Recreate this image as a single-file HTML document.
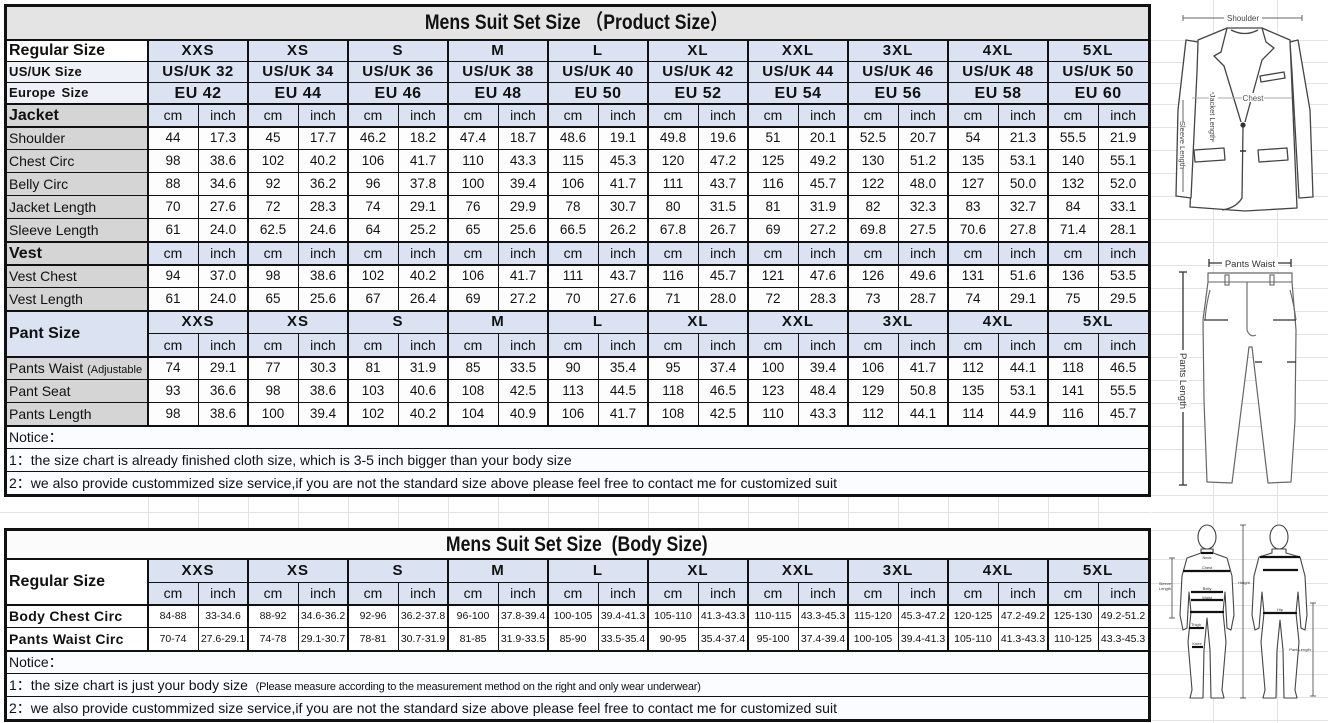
<!DOCTYPE html>
<html><head><meta charset="utf-8">
<style>
body{margin:0;width:1328px;height:723px;position:relative;overflow:hidden;background:#fff;font-family:"Liberation Sans","Noto Sans CJK SC",Arial,sans-serif;color:#111}
table{position:absolute;left:5px;border-collapse:separate;border-spacing:0;table-layout:fixed;width:1143px}
td{padding:0;overflow:hidden;white-space:nowrap;text-align:center;vertical-align:middle;line-height:1.1;font-size:13.5px;background:#fdfdfe}
td.lab{text-align:left;text-indent:4px;font-size:14px;background:#d5d5d5}
td.bd{font-weight:bold;font-size:16px}
.cmr td{background:#dbe3f2;font-size:14px}
.szr td{background:#dbe3f2;font-weight:bold;font-size:15px;letter-spacing:1px}
.usr td{background:#dbe3f2;font-weight:bold;font-size:15px;letter-spacing:.5px}
.eur td{background:#dbe3f2;font-weight:bold;font-size:16px;letter-spacing:.5px}
table tr td.wl{background:#fff}
table tr td.ll{background:#eef1f7}
table tr td.bl{background:#dbe3f2}
table tr td.gl{background:#d5d5d5}
td.title{background:#e4e4e4}
td.title2{background:#fbfbfb}
.tt{display:inline-block;font-size:21px;font-weight:bold;transform:scaleX(.84)}
td.note{text-align:left;text-indent:4px;font-size:14px;background:#fafcff}
.sm td{font-size:10.5px;background:#fff}
.h{position:absolute;left:4px;width:1147px;background:#111}
.v{position:absolute;background:#111}
.g{position:absolute;background:#e3e3e3}
</style></head><body>

<!-- background grid -->
<div class="g" style="left:0;top:512px;width:1150px;height:1px"></div>
<div class="g" style="left:148px;top:497px;width:1px;height:31px"></div>
<div class="g" style="left:198px;top:497px;width:1px;height:31px"></div>
<div class="g" style="left:248px;top:497px;width:1px;height:31px"></div>
<div class="g" style="left:298px;top:497px;width:1px;height:31px"></div>
<div class="g" style="left:348px;top:497px;width:1px;height:31px"></div>
<div class="g" style="left:398px;top:497px;width:1px;height:31px"></div>
<div class="g" style="left:448px;top:497px;width:1px;height:31px"></div>
<div class="g" style="left:498px;top:497px;width:1px;height:31px"></div>
<div class="g" style="left:548px;top:497px;width:1px;height:31px"></div>
<div class="g" style="left:598px;top:497px;width:1px;height:31px"></div>
<div class="g" style="left:648px;top:497px;width:1px;height:31px"></div>
<div class="g" style="left:698px;top:497px;width:1px;height:31px"></div>
<div class="g" style="left:748px;top:497px;width:1px;height:31px"></div>
<div class="g" style="left:798px;top:497px;width:1px;height:31px"></div>
<div class="g" style="left:848px;top:497px;width:1px;height:31px"></div>
<div class="g" style="left:898px;top:497px;width:1px;height:31px"></div>
<div class="g" style="left:948px;top:497px;width:1px;height:31px"></div>
<div class="g" style="left:998px;top:497px;width:1px;height:31px"></div>
<div class="g" style="left:1048px;top:497px;width:1px;height:31px"></div>
<div class="g" style="left:1098px;top:497px;width:1px;height:31px"></div>
<div class="g" style="left:1213px;top:0;width:1px;height:723px"></div>
<div class="g" style="left:1277px;top:0;width:1px;height:723px"></div>
<div class="g" style="left:1151px;top:40px;width:177px;height:1px"></div>
<div class="g" style="left:1151px;top:62px;width:177px;height:1px"></div>
<div class="g" style="left:1151px;top:83px;width:177px;height:1px"></div>
<div class="g" style="left:1151px;top:104px;width:177px;height:1px"></div>
<div class="g" style="left:1151px;top:127px;width:177px;height:1px"></div>
<div class="g" style="left:1151px;top:150px;width:177px;height:1px"></div>
<div class="g" style="left:1151px;top:173px;width:177px;height:1px"></div>
<div class="g" style="left:1151px;top:196px;width:177px;height:1px"></div>
<div class="g" style="left:1151px;top:219px;width:177px;height:1px"></div>
<div class="g" style="left:1151px;top:242px;width:177px;height:1px"></div>
<div class="g" style="left:1151px;top:265px;width:177px;height:1px"></div>
<div class="g" style="left:1151px;top:288px;width:177px;height:1px"></div>
<div class="g" style="left:1151px;top:311px;width:177px;height:1px"></div>
<div class="g" style="left:1151px;top:334px;width:177px;height:1px"></div>
<div class="g" style="left:1151px;top:357px;width:177px;height:1px"></div>
<div class="g" style="left:1151px;top:380px;width:177px;height:1px"></div>
<div class="g" style="left:1151px;top:403px;width:177px;height:1px"></div>
<div class="g" style="left:1151px;top:426px;width:177px;height:1px"></div>
<div class="g" style="left:1151px;top:449px;width:177px;height:1px"></div>
<div class="g" style="left:1151px;top:472px;width:177px;height:1px"></div>
<div class="g" style="left:1151px;top:495px;width:177px;height:1px"></div>
<div class="g" style="left:1151px;top:512px;width:177px;height:1px"></div>
<div class="g" style="left:1151px;top:530px;width:177px;height:1px"></div>
<div class="g" style="left:1151px;top:559px;width:177px;height:1px"></div>
<div class="g" style="left:1151px;top:583px;width:177px;height:1px"></div>
<div class="g" style="left:1151px;top:605px;width:177px;height:1px"></div>
<div class="g" style="left:1151px;top:628px;width:177px;height:1px"></div>
<div class="g" style="left:1151px;top:651px;width:177px;height:1px"></div>
<div class="g" style="left:1151px;top:674px;width:177px;height:1px"></div>
<div class="g" style="left:1151px;top:697px;width:177px;height:1px"></div>
<div class="g" style="left:1151px;top:720px;width:177px;height:1px"></div>

<!-- TOP TABLE -->
<table style="top:5px">
<colgroup><col style="width:143px"><col style="width:50px"><col style="width:50px"><col style="width:50px"><col style="width:50px"><col style="width:50px"><col style="width:50px"><col style="width:50px"><col style="width:50px"><col style="width:50px"><col style="width:50px"><col style="width:50px"><col style="width:50px"><col style="width:50px"><col style="width:50px"><col style="width:50px"><col style="width:50px"><col style="width:50px"><col style="width:50px"><col style="width:50px"><col style="width:50px"></colgroup>
<tr style="height:35px"><td colspan="21" class="title"><span class="tt">Mens Suit Set Size （Product Size）</span></td></tr>
<tr class="szr" style="height:22px"><td class="lab wl" style="font-size:16px;letter-spacing:0">Regular Size</td><td colspan="2">XXS</td><td colspan="2">XS</td><td colspan="2">S</td><td colspan="2">M</td><td colspan="2">L</td><td colspan="2">XL</td><td colspan="2">XXL</td><td colspan="2">3XL</td><td colspan="2">4XL</td><td colspan="2">5XL</td></tr>
<tr class="usr" style="height:21px"><td class="lab ll" style="font-size:13px;letter-spacing:.3px">US/UK Size</td><td colspan="2">US/UK 32</td><td colspan="2">US/UK 34</td><td colspan="2">US/UK 36</td><td colspan="2">US/UK 38</td><td colspan="2">US/UK 40</td><td colspan="2">US/UK 42</td><td colspan="2">US/UK 44</td><td colspan="2">US/UK 46</td><td colspan="2">US/UK 48</td><td colspan="2">US/UK 50</td></tr>
<tr class="eur" style="height:21px"><td class="lab ll" style="font-size:13px;letter-spacing:.3px;word-spacing:2px">Europe Size</td><td colspan="2">EU 42</td><td colspan="2">EU 44</td><td colspan="2">EU 46</td><td colspan="2">EU 48</td><td colspan="2">EU 50</td><td colspan="2">EU 52</td><td colspan="2">EU 54</td><td colspan="2">EU 56</td><td colspan="2">EU 58</td><td colspan="2">EU 60</td></tr>
<tr class="cmr" style="height:23px"><td class="lab bd gl" style="font-size:16px">Jacket</td><td>cm</td><td>inch</td><td>cm</td><td>inch</td><td>cm</td><td>inch</td><td>cm</td><td>inch</td><td>cm</td><td>inch</td><td>cm</td><td>inch</td><td>cm</td><td>inch</td><td>cm</td><td>inch</td><td>cm</td><td>inch</td><td>cm</td><td>inch</td></tr>
<tr style="height:23px"><td class="lab">Shoulder</td><td>44</td><td>17.3</td><td>45</td><td>17.7</td><td>46.2</td><td>18.2</td><td>47.4</td><td>18.7</td><td>48.6</td><td>19.1</td><td>49.8</td><td>19.6</td><td>51</td><td>20.1</td><td>52.5</td><td>20.7</td><td>54</td><td>21.3</td><td>55.5</td><td>21.9</td></tr>
<tr style="height:23px"><td class="lab">Chest Circ</td><td>98</td><td>38.6</td><td>102</td><td>40.2</td><td>106</td><td>41.7</td><td>110</td><td>43.3</td><td>115</td><td>45.3</td><td>120</td><td>47.2</td><td>125</td><td>49.2</td><td>130</td><td>51.2</td><td>135</td><td>53.1</td><td>140</td><td>55.1</td></tr>
<tr style="height:23px"><td class="lab">Belly Circ</td><td>88</td><td>34.6</td><td>92</td><td>36.2</td><td>96</td><td>37.8</td><td>100</td><td>39.4</td><td>106</td><td>41.7</td><td>111</td><td>43.7</td><td>116</td><td>45.7</td><td>122</td><td>48.0</td><td>127</td><td>50.0</td><td>132</td><td>52.0</td></tr>
<tr style="height:23px"><td class="lab">Jacket Length</td><td>70</td><td>27.6</td><td>72</td><td>28.3</td><td>74</td><td>29.1</td><td>76</td><td>29.9</td><td>78</td><td>30.7</td><td>80</td><td>31.5</td><td>81</td><td>31.9</td><td>82</td><td>32.3</td><td>83</td><td>32.7</td><td>84</td><td>33.1</td></tr>
<tr style="height:23px"><td class="lab">Sleeve Length</td><td>61</td><td>24.0</td><td>62.5</td><td>24.6</td><td>64</td><td>25.2</td><td>65</td><td>25.6</td><td>66.5</td><td>26.2</td><td>67.8</td><td>26.7</td><td>69</td><td>27.2</td><td>69.8</td><td>27.5</td><td>70.6</td><td>27.8</td><td>71.4</td><td>28.1</td></tr>
<tr class="cmr" style="height:23px"><td class="lab bd gl" style="font-size:16px">Vest</td><td>cm</td><td>inch</td><td>cm</td><td>inch</td><td>cm</td><td>inch</td><td>cm</td><td>inch</td><td>cm</td><td>inch</td><td>cm</td><td>inch</td><td>cm</td><td>inch</td><td>cm</td><td>inch</td><td>cm</td><td>inch</td><td>cm</td><td>inch</td></tr>
<tr style="height:23px"><td class="lab">Vest Chest</td><td>94</td><td>37.0</td><td>98</td><td>38.6</td><td>102</td><td>40.2</td><td>106</td><td>41.7</td><td>111</td><td>43.7</td><td>116</td><td>45.7</td><td>121</td><td>47.6</td><td>126</td><td>49.6</td><td>131</td><td>51.6</td><td>136</td><td>53.5</td></tr>
<tr style="height:23px"><td class="lab">Vest Length</td><td>61</td><td>24.0</td><td>65</td><td>25.6</td><td>67</td><td>26.4</td><td>69</td><td>27.2</td><td>70</td><td>27.6</td><td>71</td><td>28.0</td><td>72</td><td>28.3</td><td>73</td><td>28.7</td><td>74</td><td>29.1</td><td>75</td><td>29.5</td></tr>
<tr class="szr" style="height:23px"><td rowspan="2" class="lab bd bl" style="font-size:16px;letter-spacing:0">Pant Size</td><td colspan="2">XXS</td><td colspan="2">XS</td><td colspan="2">S</td><td colspan="2">M</td><td colspan="2">L</td><td colspan="2">XL</td><td colspan="2">XXL</td><td colspan="2">3XL</td><td colspan="2">4XL</td><td colspan="2">5XL</td></tr>
<tr class="cmr" style="height:23px"><td>cm</td><td>inch</td><td>cm</td><td>inch</td><td>cm</td><td>inch</td><td>cm</td><td>inch</td><td>cm</td><td>inch</td><td>cm</td><td>inch</td><td>cm</td><td>inch</td><td>cm</td><td>inch</td><td>cm</td><td>inch</td><td>cm</td><td>inch</td></tr>
<tr style="height:23px"><td class="lab">Pants Waist <span style="font-size:11px">(Adjustable</span></td><td>74</td><td>29.1</td><td>77</td><td>30.3</td><td>81</td><td>31.9</td><td>85</td><td>33.5</td><td>90</td><td>35.4</td><td>95</td><td>37.4</td><td>100</td><td>39.4</td><td>106</td><td>41.7</td><td>112</td><td>44.1</td><td>118</td><td>46.5</td></tr>
<tr style="height:23px"><td class="lab">Pant Seat</td><td>93</td><td>36.6</td><td>98</td><td>38.6</td><td>103</td><td>40.6</td><td>108</td><td>42.5</td><td>113</td><td>44.5</td><td>118</td><td>46.5</td><td>123</td><td>48.4</td><td>129</td><td>50.8</td><td>135</td><td>53.1</td><td>141</td><td>55.5</td></tr>
<tr style="height:23px"><td class="lab">Pants Length</td><td>98</td><td>38.6</td><td>100</td><td>39.4</td><td>102</td><td>40.2</td><td>104</td><td>40.9</td><td>106</td><td>41.7</td><td>108</td><td>42.5</td><td>110</td><td>43.3</td><td>112</td><td>44.1</td><td>114</td><td>44.9</td><td>116</td><td>45.7</td></tr>
<tr style="height:23px"><td colspan="21" class="note">Notice：</td></tr>
<tr style="height:23px"><td colspan="21" class="note">1：the size chart is already finished cloth size, which is 3-5 inch bigger than your body size</td></tr>
<tr style="height:23px"><td colspan="21" class="note">2：we also provide custommized size service,if you are not the standard size above please feel free to contact me for customized suit</td></tr>
</table>

<!-- top table lines -->
<div class="h" style="top:4px;height:3px"></div>
<div class="h" style="top:39px;height:2px"></div>
<div class="h" style="top:61px;height:1px"></div>
<div class="h" style="top:82px;height:1px"></div>
<div class="h" style="top:103px;height:2px"></div>
<div class="h" style="top:126px;height:2px"></div>
<div class="h" style="top:149px;height:1px"></div>
<div class="h" style="top:172px;height:1px"></div>
<div class="h" style="top:195px;height:1px"></div>
<div class="h" style="top:218px;height:1px"></div>
<div class="h" style="top:241px;height:2px"></div>
<div class="h" style="top:264px;height:2px"></div>
<div class="h" style="top:287px;height:1px"></div>
<div class="h" style="top:310px;height:2px"></div>
<div class="h" style="top:333px;height:1px;left:148px;width:1000px"></div>
<div class="h" style="top:356px;height:2px"></div>
<div class="h" style="top:379px;height:1px"></div>
<div class="h" style="top:402px;height:1px"></div>
<div class="h" style="top:425px;height:2px"></div>
<div class="h" style="top:448px;height:1px"></div>
<div class="h" style="top:471px;height:1px"></div>
<div class="h" style="top:494px;height:3px"></div>
<div class="v" style="left:4px;top:4px;width:3px;height:493px"></div>
<div class="v" style="left:1148px;top:4px;width:3px;height:493px"></div>
<div class="v" style="left:147px;top:39px;width:2px;height:387px"></div>
<div class="v" style="left:247px;top:39px;width:2px;height:387px"></div>
<div class="v" style="left:347px;top:39px;width:2px;height:387px"></div>
<div class="v" style="left:447px;top:39px;width:2px;height:387px"></div>
<div class="v" style="left:547px;top:39px;width:2px;height:387px"></div>
<div class="v" style="left:647px;top:39px;width:2px;height:387px"></div>
<div class="v" style="left:747px;top:39px;width:2px;height:387px"></div>
<div class="v" style="left:847px;top:39px;width:2px;height:387px"></div>
<div class="v" style="left:947px;top:39px;width:2px;height:387px"></div>
<div class="v" style="left:1047px;top:39px;width:2px;height:387px"></div>
<div class="v" style="left:198px;top:104px;width:1px;height:207px"></div>
<div class="v" style="left:298px;top:104px;width:1px;height:207px"></div>
<div class="v" style="left:398px;top:104px;width:1px;height:207px"></div>
<div class="v" style="left:498px;top:104px;width:1px;height:207px"></div>
<div class="v" style="left:598px;top:104px;width:1px;height:207px"></div>
<div class="v" style="left:698px;top:104px;width:1px;height:207px"></div>
<div class="v" style="left:798px;top:104px;width:1px;height:207px"></div>
<div class="v" style="left:898px;top:104px;width:1px;height:207px"></div>
<div class="v" style="left:998px;top:104px;width:1px;height:207px"></div>
<div class="v" style="left:1098px;top:104px;width:1px;height:207px"></div>
<div class="v" style="left:198px;top:334px;width:1px;height:92px"></div>
<div class="v" style="left:298px;top:334px;width:1px;height:92px"></div>
<div class="v" style="left:398px;top:334px;width:1px;height:92px"></div>
<div class="v" style="left:498px;top:334px;width:1px;height:92px"></div>
<div class="v" style="left:598px;top:334px;width:1px;height:92px"></div>
<div class="v" style="left:698px;top:334px;width:1px;height:92px"></div>
<div class="v" style="left:798px;top:334px;width:1px;height:92px"></div>
<div class="v" style="left:898px;top:334px;width:1px;height:92px"></div>
<div class="v" style="left:998px;top:334px;width:1px;height:92px"></div>
<div class="v" style="left:1098px;top:334px;width:1px;height:92px"></div>

<!-- BOTTOM TABLE -->
<table style="top:530px">
<colgroup><col style="width:143px"><col style="width:50px"><col style="width:50px"><col style="width:50px"><col style="width:50px"><col style="width:50px"><col style="width:50px"><col style="width:50px"><col style="width:50px"><col style="width:50px"><col style="width:50px"><col style="width:50px"><col style="width:50px"><col style="width:50px"><col style="width:50px"><col style="width:50px"><col style="width:50px"><col style="width:50px"><col style="width:50px"><col style="width:50px"><col style="width:50px"></colgroup>
<tr style="height:29px"><td colspan="21" class="title2"><span class="tt">Mens Suit Set Size&nbsp; (Body Size)</span></td></tr>
<tr class="szr" style="height:24px"><td rowspan="2" class="lab bd wl" style="font-size:16px;letter-spacing:0">Regular Size</td><td colspan="2">XXS</td><td colspan="2">XS</td><td colspan="2">S</td><td colspan="2">M</td><td colspan="2">L</td><td colspan="2">XL</td><td colspan="2">XXL</td><td colspan="2">3XL</td><td colspan="2">4XL</td><td colspan="2">5XL</td></tr>
<tr class="cmr" style="height:22px"><td>cm</td><td>inch</td><td>cm</td><td>inch</td><td>cm</td><td>inch</td><td>cm</td><td>inch</td><td>cm</td><td>inch</td><td>cm</td><td>inch</td><td>cm</td><td>inch</td><td>cm</td><td>inch</td><td>cm</td><td>inch</td><td>cm</td><td>inch</td></tr>
<tr class="sm" style="height:23px"><td class="lab wl" style="font-weight:bold;font-size:14px;letter-spacing:.3px">Body Chest Circ</td><td>84-88</td><td>33-34.6</td><td>88-92</td><td>34.6-36.2</td><td>92-96</td><td>36.2-37.8</td><td>96-100</td><td>37.8-39.4</td><td>100-105</td><td>39.4-41.3</td><td>105-110</td><td>41.3-43.3</td><td>110-115</td><td>43.3-45.3</td><td>115-120</td><td>45.3-47.2</td><td>120-125</td><td>47.2-49.2</td><td>125-130</td><td>49.2-51.2</td></tr>
<tr class="sm" style="height:23px"><td class="lab wl" style="font-weight:bold;font-size:14px;letter-spacing:.3px">Pants Waist Circ</td><td>70-74</td><td>27.6-29.1</td><td>74-78</td><td>29.1-30.7</td><td>78-81</td><td>30.7-31.9</td><td>81-85</td><td>31.9-33.5</td><td>85-90</td><td>33.5-35.4</td><td>90-95</td><td>35.4-37.4</td><td>95-100</td><td>37.4-39.4</td><td>100-105</td><td>39.4-41.3</td><td>105-110</td><td>41.3-43.3</td><td>110-125</td><td>43.3-45.3</td></tr>
<tr style="height:23px"><td colspan="21" class="note">Notice：</td></tr>
<tr style="height:23px"><td colspan="21" class="note">1：the size chart is just your body size&nbsp; <span style="font-size:11px;letter-spacing:-.2px">(Please measure according to the measurement method on the right and only wear underwear)</span></td></tr>
<tr style="height:23px"><td colspan="21" class="note">2：we also provide custommized size service,if you are not the standard size above please feel free to contact me for customized suit</td></tr>
</table>

<!-- bottom table lines -->
<div class="h" style="top:528px;height:3px"></div>
<div class="h" style="top:558px;height:2px"></div>
<div class="h" style="top:582px;height:1px;left:148px;width:1000px"></div>
<div class="h" style="top:604px;height:2px"></div>
<div class="h" style="top:627px;height:1px"></div>
<div class="h" style="top:650px;height:2px"></div>
<div class="h" style="top:673px;height:1px"></div>
<div class="h" style="top:696px;height:1px"></div>
<div class="h" style="top:719px;height:3px"></div>
<div class="v" style="left:4px;top:528px;width:3px;height:194px"></div>
<div class="v" style="left:1148px;top:528px;width:3px;height:194px"></div>
<div class="v" style="left:147px;top:558px;width:2px;height:93px"></div>
<div class="v" style="left:247px;top:558px;width:2px;height:93px"></div>
<div class="v" style="left:347px;top:558px;width:2px;height:93px"></div>
<div class="v" style="left:447px;top:558px;width:2px;height:93px"></div>
<div class="v" style="left:547px;top:558px;width:2px;height:93px"></div>
<div class="v" style="left:647px;top:558px;width:2px;height:93px"></div>
<div class="v" style="left:747px;top:558px;width:2px;height:93px"></div>
<div class="v" style="left:847px;top:558px;width:2px;height:93px"></div>
<div class="v" style="left:947px;top:558px;width:2px;height:93px"></div>
<div class="v" style="left:1047px;top:558px;width:2px;height:93px"></div>
<div class="v" style="left:198px;top:582px;width:1px;height:69px"></div>
<div class="v" style="left:298px;top:582px;width:1px;height:69px"></div>
<div class="v" style="left:398px;top:582px;width:1px;height:69px"></div>
<div class="v" style="left:498px;top:582px;width:1px;height:69px"></div>
<div class="v" style="left:598px;top:582px;width:1px;height:69px"></div>
<div class="v" style="left:698px;top:582px;width:1px;height:69px"></div>
<div class="v" style="left:798px;top:582px;width:1px;height:69px"></div>
<div class="v" style="left:898px;top:582px;width:1px;height:69px"></div>
<div class="v" style="left:998px;top:582px;width:1px;height:69px"></div>
<div class="v" style="left:1098px;top:582px;width:1px;height:69px"></div>

<!-- right side drawings -->
<svg style="position:absolute;left:1151px;top:0" width="177" height="723" viewBox="1151 0 177 723" xmlns="http://www.w3.org/2000/svg" font-family="Liberation Sans, Arial, sans-serif">
 <g fill="#fff" stroke="#444" stroke-width="1.3" stroke-linejoin="round">
  <polygon points="1198,40 1227,28 1262,28 1290,40 1297,208 1245,211 1190,207"/>
  <polygon points="1186,40 1198,42 1197,72 1191,198 1176,196 1178,110"/>
  <polygon points="1298,40 1290,42 1292,72 1299,198 1313,197 1310,110"/>
  <polyline fill="none" points="1227,28 1221,52 1214,56 1224,66 1241,122"/>
  <polyline fill="none" points="1262,28 1266,42 1274,48 1262,60 1245,122"/>
  <path fill="none" d="M1231,30 Q1245,37 1258,30"/>
  <path fill="none" d="M1243,127 L1242,198 Q1236,208 1222,210"/>
  <polygon points="1194,150 1224,148 1225,160 1195,162"/>
  <polygon points="1258,150 1287,148 1288,160 1259,162"/>
  <polygon points="1260,76 1284,72 1285,78 1261,82"/>
 </g>
 <circle cx="1243" cy="125" r="2.6" fill="#333"/>
 <line x1="1240" y1="151" x2="1246" y2="151" stroke="#333" stroke-width="1.5"/>
 <g stroke="#666" stroke-width="1" fill="none">
  <line x1="1183" y1="18" x2="1302" y2="18"/>
  <line x1="1183" y1="15" x2="1183" y2="21"/>
  <line x1="1302" y1="15" x2="1302" y2="21"/>
  <line x1="1192" y1="98" x2="1292" y2="98" stroke="#aaa"/>
  <line x1="1183" y1="100" x2="1183" y2="192"/>
  <line x1="1213" y1="92" x2="1213" y2="142"/>
 </g>
 <rect x="1224" y="13" width="38" height="10" fill="#fff"/>
 <text x="1243" y="21" font-size="8" text-anchor="middle" fill="#444">Shoulder</text>
 <rect x="1242" y="93" width="22" height="9" fill="#fff"/>
 <text x="1253" y="101" font-size="8" text-anchor="middle" fill="#555">Chest</text>
 <rect x="1179" y="122" width="9" height="46" fill="#fff"/>
 <text transform="translate(1180,145) rotate(90)" font-size="7.5" text-anchor="middle" fill="#444">Sleeve Length</text>
 <rect x="1209" y="94" width="9" height="46" fill="#fff"/>
 <text transform="translate(1210,117) rotate(90)" font-size="7.5" text-anchor="middle" fill="#444">Jacket Length</text>

 <path d="M1208,273 L1292,273 L1292,282 L1296,330 L1295,420 L1291,482 L1268,483 L1252,347 L1249,347 L1232,483 L1207,482 L1204,400 L1203,320 L1208,282 Z" fill="#fff" stroke="#666" stroke-width="1.2" stroke-linejoin="round"/>
 <g stroke="#666" stroke-width="1.1" fill="none">
  <line x1="1208" y1="282" x2="1292" y2="282"/>
  <rect x="1225" y="275" width="4" height="10"/>
  <rect x="1270" y="275" width="4" height="10"/>
  <path d="M1247,282 L1247,330 Q1250,338 1256,335"/>
  <path d="M1210,290 Q1206,305 1205,320"/>
  <path d="M1290,290 Q1294,305 1296,320"/>
 </g>
 <g stroke="#333" stroke-width="1.3">
  <line x1="1204" y1="320" x2="1228" y2="320"/>
  <line x1="1273" y1="320" x2="1296" y2="320"/>
  <line x1="1255" y1="362" x2="1262" y2="362"/>
  <line x1="1287" y1="362" x2="1296" y2="362"/>
  <line x1="1209" y1="263" x2="1291" y2="263"/>
  <line x1="1209" y1="259" x2="1209" y2="267"/>
  <line x1="1291" y1="259" x2="1291" y2="267"/>
  <line x1="1183" y1="272" x2="1183" y2="485"/>
  <line x1="1179" y1="272" x2="1187" y2="272"/>
  <line x1="1179" y1="485" x2="1187" y2="485"/>
 </g>
 <rect x="1222" y="257" width="56" height="12" fill="#fff"/>
 <text x="1250" y="267" font-size="9.5" text-anchor="middle" fill="#333">Pants Waist</text>
 <rect x="1178" y="350" width="11" height="62" fill="#fff"/>
 <text transform="translate(1180,381) rotate(90)" font-size="9.5" text-anchor="middle" fill="#333">Pants Length</text>

 <g fill="#fff" stroke="#444" stroke-width="1.1" stroke-linejoin="round">
  <path d="M1201,549 L1201,553 L1187,558 L1182,576 L1180,615 L1183,630 L1187,628 L1189,592 L1191,612 L1188,642 L1192,690 L1190,698 L1203,698 L1204,650 L1207,618 L1210,650 L1211,698 L1224,698 L1222,690 L1226,642 L1223,612 L1225,592 L1227,628 L1231,630 L1234,615 L1232,576 L1227,558 L1213,553 L1213,549 Z"/>
  <ellipse cx="1207" cy="537" rx="9" ry="12"/>
  <path d="M1272,549 L1272,553 L1259,557 L1254,576 L1252,615 L1255,630 L1259,628 L1262,592 L1264,613 L1261,642 L1265,690 L1263,698 L1276,698 L1277,650 L1280,620 L1283,650 L1284,698 L1297,698 L1295,690 L1299,642 L1296,613 L1298,592 L1301,628 L1305,630 L1307,615 L1305,576 L1300,557 L1286,553 L1286,549 Z"/>
  <ellipse cx="1279" cy="537" rx="9" ry="12"/>
 </g>
 <g stroke="#111" stroke-width="2.2">
  <line x1="1201" y1="553" x2="1213" y2="553"/>
  <line x1="1183" y1="571" x2="1230" y2="571"/>
  <line x1="1191" y1="592" x2="1223" y2="592"/>
  <line x1="1191" y1="600" x2="1223" y2="600"/>
  <line x1="1190" y1="612" x2="1224" y2="612"/>
  <line x1="1189" y1="628" x2="1204" y2="628"/>
  <line x1="1192" y1="647" x2="1203" y2="647"/>
  <line x1="1260" y1="557" x2="1300" y2="557"/>
  <line x1="1263" y1="570" x2="1298" y2="570"/>
  <line x1="1263" y1="613" x2="1297" y2="613"/>
 </g>
 <g stroke="#555" stroke-width="0.9">
  <line x1="1243" y1="525" x2="1243" y2="698"/>
  <line x1="1240" y1="525" x2="1246" y2="525"/>
  <line x1="1240" y1="698" x2="1246" y2="698"/>
  <line x1="1313" y1="603" x2="1313" y2="696"/>
  <line x1="1310" y1="603" x2="1316" y2="603"/>
  <line x1="1310" y1="696" x2="1316" y2="696"/>
  <line x1="1172" y1="558" x2="1172" y2="618"/>
  <line x1="1169" y1="558" x2="1175" y2="558"/>
  <line x1="1169" y1="618" x2="1175" y2="618"/>
 </g>
 <g font-size="4" fill="#333" text-anchor="middle">
  <text x="1207" y="559">Neck</text>
  <text x="1207" y="569">Chest</text>
  <text x="1207" y="590">Belly</text>
  <text x="1207" y="599">Waist</text>
  <text x="1196" y="626">Thigh</text>
  <text x="1197" y="645">Knee</text>
  <text x="1244" y="584">Height</text>
  <text x="1280" y="611">Hip</text>
  <text x="1300" y="651">Pant Length</text>
  <text x="1165" y="585">Sleeve</text>
  <text x="1165" y="590">Length</text>
 </g>
</svg>
</body></html>
